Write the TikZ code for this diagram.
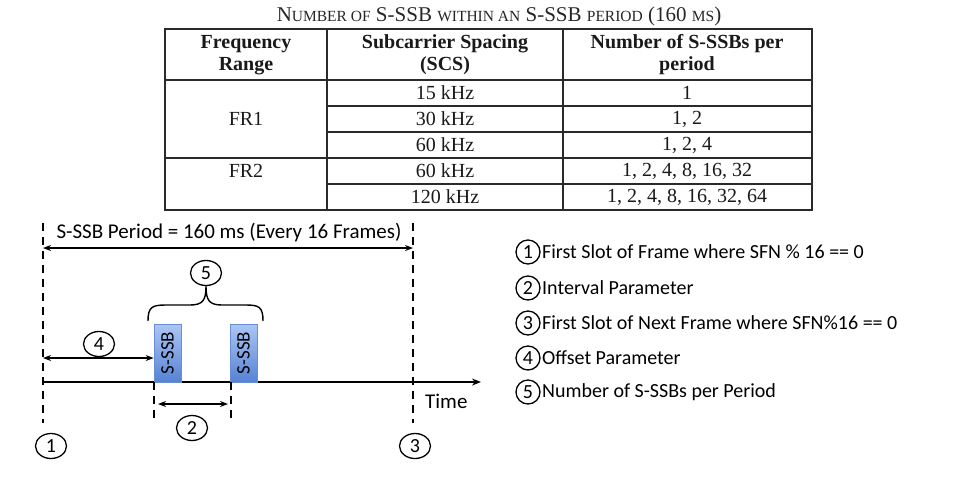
\documentclass[tikz,border=0pt]{standalone}
\usepackage{fontspec}
\setmainfont{Liberation Serif}
\newfontfamily\calfont{Carlito}
\usetikzlibrary{arrows.meta,shapes.geometric}
\definecolor{tline}{HTML}{2A2A2A}
\definecolor{boxtop}{RGB}{172,198,245}
\definecolor{boxbot}{RGB}{86,130,212}
\definecolor{boxedge}{RGB}{105,142,210}
\tikzset{
  cell/.style={font=\fontsize{20}{22}\selectfont, text=black!90, align=center, inner sep=0pt},
  hcell/.style={cell, font=\fontsize{20}{22}\selectfont\bfseries},
  dtxt/.style={font=\calfont\fontsize{21}{24}\selectfont, inner sep=0pt},
  ltxt/.style={font=\calfont\fontsize{20}{24}\selectfont, inner sep=0pt, anchor=west},
  numc/.style={draw, ellipse, line width=1.3pt, minimum width=31pt, minimum height=25pt, inner sep=0pt, font=\calfont\fontsize{20}{24}\selectfont},
  lnum/.style={draw, circle, line width=1.3pt, minimum size=24pt, inner sep=0pt, font=\calfont\fontsize{20}{24}\selectfont},
  dashv/.style={line width=1.6pt, dash pattern=on 8pt off 6pt},
  darr/.style={line width=1.3pt, {Stealth[length=8pt,width=6pt]}-{Stealth[length=8pt,width=6pt]}},
  ssb/.style={draw=boxedge, line width=0.6pt, top color=boxtop, bottom color=boxbot, minimum width=27pt, minimum height=58pt, inner sep=0pt},
}
\begin{document}
\begin{tikzpicture}[x=1pt,y=-1pt]
\useasboundingbox (0,0) rectangle (960,480);
% ---------- title ----------
\node[inner sep=0pt, text=black!85] (title) at (499,16) {\fontsize{21}{22}\selectfont N{\fontsize{15.5}{18}\selectfont UMBER OF} S-SSB {\fontsize{15.5}{18}\selectfont WITHIN AN} S-SSB {\fontsize{15.5}{18}\selectfont PERIOD} (160 {\fontsize{15.5}{18}\selectfont MS})};
% ---------- table ----------
\draw[tline, line width=1.6pt] (165,29) rectangle (812,210);
\draw[tline, line width=1.5pt] (165,80) -- (812,80);
\draw[tline, line width=1.5pt] (165,158) -- (812,158);
\draw[tline, line width=1.1pt] (327,29) -- (327,210);
\draw[tline, line width=1.1pt] (563,29) -- (563,210);
\draw[tline, line width=1.1pt] (327,106) -- (812,106);
\draw[tline, line width=1.1pt] (327,132) -- (812,132);
\draw[tline, line width=1.1pt] (327,184) -- (812,184);
\node[hcell] (h1) at (246,55) {Frequency\\Range};
\node[hcell] (h2) at (445,55) {Subcarrier Spacing\\(SCS)};
\node[hcell] (h3) at (687,55) {Number of S-SSBs per\\period};
\node[cell] (fr1) at (246,119) {FR1};
\node[cell] (fr2) at (246,171) {FR2};
\node[cell] (s1) at (445,93) {15 kHz};
\node[cell] (s2) at (445,119) {30 kHz};
\node[cell] (s3) at (445,145) {60 kHz};
\node[cell] (s4) at (445,171) {60 kHz};
\node[cell] (s5) at (445,197) {120 kHz};
\node[cell] (n1) at (687,93) {1};
\node[cell] (n2) at (687,119) {1, 2};
\node[cell] (n3) at (687,145) {1, 2, 4};
\node[cell] (n4) at (687,171) {1, 2, 4, 8, 16, 32};
\node[cell] (n5) at (687,197) {1, 2, 4, 8, 16, 32, 64};
% ---------- timeline diagram ----------
\coordinate (L0) at (43,223);
\coordinate (L1) at (43,423);
\coordinate (R0) at (413,223);
\coordinate (R1) at (413,423);
\draw[dashv] (L0) -- (L1);
\draw[dashv] (R0) -- (R1);
\coordinate (t0) at (43,382);
\coordinate (t1) at (481,382);
\draw[line width=1.5pt, -{Stealth[length=9pt,width=7pt]}] (t0) -- (t1);
\coordinate (pa) at (43,248);
\coordinate (pb) at (413,248);
\draw[darr] (pa) -- (pb);
\node[dtxt] (ptxt) at (229,233) {S-SSB Period = 160 ms (Every 16 Frames)};
\node[dtxt, anchor=west] (time) at (425,401) {Time};
% S-SSB boxes
\node[ssb] (b1) at (167.5,353) {};
\node[ssb] (b2) at (243.5,353) {};
\node[dtxt, rotate=90, font=\calfont\fontsize{19}{22}\selectfont] (b1t) at (b1.center) {S-SSB};
\node[dtxt, rotate=90, font=\calfont\fontsize{19}{22}\selectfont] (b2t) at (b2.center) {S-SSB};
% short dashed lines below boxes
\coordinate (d1a) at (154,382);
\coordinate (d1b) at (154,423);
\coordinate (d2a) at (231,382);
\coordinate (d2b) at (231,423);
\draw[dashv] (d1a) -- (d1b);
\draw[dashv] (d2a) -- (d2b);
% arrows
\coordinate (o0) at (43,358);
\draw[darr] (o0) -- (b1.west |- o0);
\coordinate (i0) at (158,404);
\coordinate (i1) at (228,404);
\draw[darr] (i0) -- (i1);
% numbered ellipses
\node[numc] (c5) at (206,273) {5};
\node[numc] (c4) at (99,344) {4};
\node[numc] (c2) at (192,428) {2};
\node[numc] (c1) at (51,446) {1};
\node[numc] (c3) at (415,446) {3};
% brace
\coordinate (brL) at (148,321);
\coordinate (brR) at (263,321);
\draw[line width=1.4pt, line join=round] (brL) .. controls (148,307) and (152,305) .. (166,305) -- (190,305) .. controls (203,305) and (206,300) .. (c5.south) .. controls (206,300) and (209,305) .. (222,305) -- (246,305) .. controls (259,305) and (263,307) .. (brR);
% ---------- legend ----------
\node[lnum] (l1) at (528,252) {1};
\node[lnum] (l2) at (528,288) {2};
\node[lnum] (l3) at (528,323) {3};
\node[lnum] (l4) at (528,358) {4};
\node[lnum] (l5) at (528,392) {5};
\node[ltxt] (lt1) at (542,252) {First Slot of Frame where SFN \% 16 == 0};
\node[ltxt] (lt2) at (542,288) {Interval Parameter};
\node[ltxt] (lt3) at (542,323) {First Slot of Next Frame where SFN\%16 == 0};
\node[ltxt] (lt4) at (542,358) {Offset Parameter};
\node[ltxt] (lt5) at (542,392) {Number of S-SSBs per Period};
\end{tikzpicture}
\end{document}
